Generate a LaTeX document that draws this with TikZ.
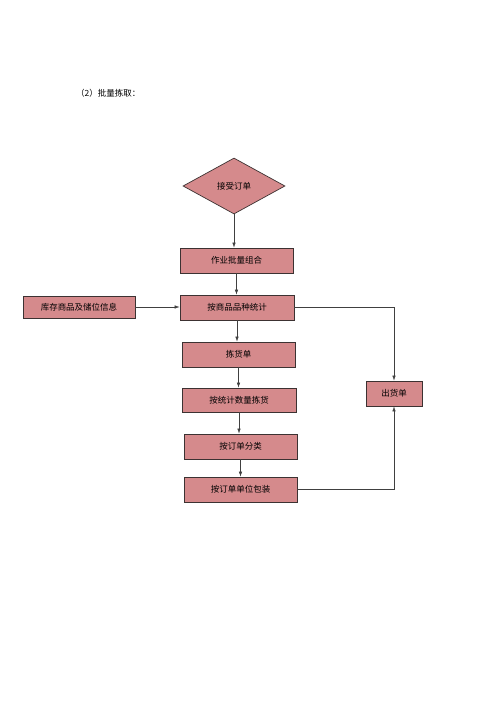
\documentclass[tikz,border=0pt]{standalone}
\usepackage{fontspec}
\setmainfont{Noto Sans CJK SC}
\usetikzlibrary{shapes.geometric,arrows.meta}

\definecolor{caja}{RGB}{213,138,140}
\definecolor{borde}{RGB}{60,50,50}

\tikzset{
  paso/.style={draw=borde, fill=caja, line width=0.7pt, minimum width=113pt,
    minimum height=25pt, inner sep=0pt, font=\fontsize{8.5}{10}\selectfont},
  decision/.style={paso, diamond, aspect=1.82, minimum width=102pt, minimum height=56pt},
  flecha/.style={draw=black!75, line width=0.6pt, -{Latex[length=5pt,width=3.5pt]}}
}

\begin{document}
\begin{tikzpicture}[x=1pt,y=-1pt]

% Marco
\useasboundingbox (0,0) rectangle (500,707);

% Titulo
\node[anchor=west, font=\fontsize{8.5}{10}\selectfont, inner sep=0pt] (titulo) at (76,93) {（2）批量拣取：};

% Pasos
\node[decision] (pedido) at (234,186) {接受订单};
\node[paso] (grupo) at (236.5,260.5) {作业批量组合};
\node[paso, minimum width=114pt] (conteo) at (237,307.5) {按商品品种统计};
\node[paso, minimum width=112pt, minimum height=22pt] (stock) at (79,307) {库存商品及储位信息};
\node[paso] (lista) at (238.5,354.5) {拣货单};
\node[paso, minimum width=114pt, minimum height=24pt] (recoger) at (239,400) {按统计数量拣货};
\node[paso] (clasif) at (240.5,446.5) {按订单分类};
\node[paso] (empaque) at (240.5,489.5) {按订单单位包装};
\node[paso, minimum width=56pt] (salida) at (394,393.5) {出货单};

% Flechas
\draw[flecha] (pedido.south) -- (pedido.south |- grupo.north);
\draw[flecha] (grupo.south) -- (grupo.south |- conteo.north);
\draw[flecha] (stock.east) -- (stock.east -| conteo.west);
\draw[flecha] (conteo.south) -- (conteo.south |- lista.north);
\draw[flecha] (lista.south) -- (lista.south |- recoger.north);
\draw[flecha] (recoger.south) -- (recoger.south |- clasif.north);
\draw[flecha] (clasif.south) -- (clasif.south |- empaque.north);
\draw[flecha] (conteo.east) -| (salida.north);
\draw[flecha] (empaque.east) -| (salida.south);

\end{tikzpicture}
\end{document}
